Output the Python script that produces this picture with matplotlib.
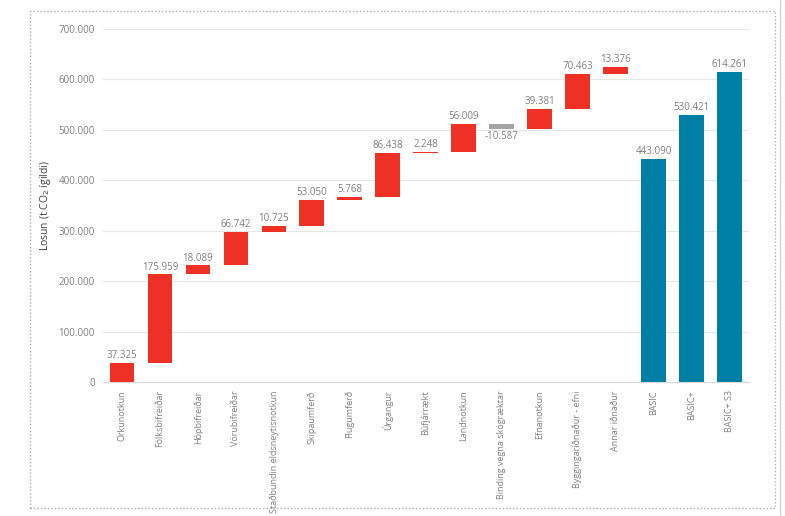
import numpy as np
import matplotlib.pyplot as plt
from matplotlib.patches import Rectangle
from matplotlib.lines import Line2D

categories = ["Orkunotkun", "Fólksbifreiðar", "Hópbifreiðar", "Vörubifreiðar",
              "Staðbundin eldsneytisnotkun", "Skipaumferð", "Flugumferð", "Úrgangur",
              "Búfjárrækt", "Landnotkun", "Binding vegna skógræktar", "Efnanotkun",
              "Byggingariðnaður - efni", "Annar iðnaður"]
steps = [37325, 175959, 18089, 66742, 10725, 53050, 5768, 86438,
         2248, 56009, -10587, 39381, 70463, 13376]
total_names = ["BASIC", "BASIC+", "BASIC+ S3"]
totals = [443090, 530421, 614261]

RED = "#EE3124"
GREY = "#A5A5A5"
BLUE = "#007FA6"
TXT = "#7F7F7F"

plt.rcParams['font.family'] = ['Open Sans', 'DejaVu Sans']


def fmt(v):
    return f"{v:,}".replace(",", ".")


def main():
    fig = plt.figure(figsize=(7.85, 5.16), dpi=100)
    ax = fig.add_axes([103 / 785, 1 - 382 / 516, 645.5 / 785, 353 / 516])

    steps_arr = np.array(steps)
    ends = np.cumsum(steps_arr)
    starts = ends - steps_arr
    n = len(steps)
    x = np.arange(n + len(totals))
    w = 0.65

    for i in range(n):
        lo = min(starts[i], ends[i])
        col = RED if steps[i] >= 0 else GREY
        ax.bar(x[i], abs(steps[i]), w, bottom=lo, color=col, zorder=3)
        if steps[i] >= 0:
            ax.text(x[i], ends[i] + 3500, fmt(steps[i]), ha="center", va="bottom",
                    fontsize=7, color=TXT)
        else:
            ax.text(x[i], lo - 3500, fmt(steps[i]), ha="center", va="top",
                    fontsize=7, color=TXT)

    for j, v in enumerate(totals):
        ax.bar(x[n + j], v, w, color=BLUE, zorder=3)
        ax.text(x[n + j], v + 3500, fmt(v), ha="center", va="bottom",
                fontsize=7, color=TXT)

    ax.set_xlim(-0.5, len(x) - 0.5)
    ax.set_ylim(0, 700000)
    yt = np.arange(0, 700001, 100000)
    ax.set_yticks(yt)
    ax.set_yticklabels([fmt(int(v)) for v in yt], fontsize=7, color=TXT)
    ax.set_xticks(x)
    ax.set_xticklabels(categories + total_names, rotation=90, fontsize=6.5, color=TXT)
    ax.tick_params(length=0, pad=6)
    ax.yaxis.grid(True, color="#E6E6E6", linewidth=0.8, zorder=0)
    for s in ["top", "right", "left"]:
        ax.spines[s].set_visible(False)
    ax.spines["bottom"].set_color("#D9D9D9")
    ax.set_ylabel("Losun (t CO$_2$ ígildi)", fontsize=7.5, color="#404040", labelpad=4)

    border = Rectangle((30 / 785, 1 - 508 / 516), 745 / 785, 497 / 516,
                       transform=fig.transFigure, fill=False, edgecolor="#AFAFAF",
                       linestyle=(0, (1, 1.5)), linewidth=1)
    fig.patches.append(border)
    fig.lines.append(Line2D([780 / 785, 780 / 785], [0, 1], transform=fig.transFigure,
                            color="#D4D4D4", linewidth=1))

    fig.savefig("out.png", dpi=100)


if __name__ == "__main__":
    main()
